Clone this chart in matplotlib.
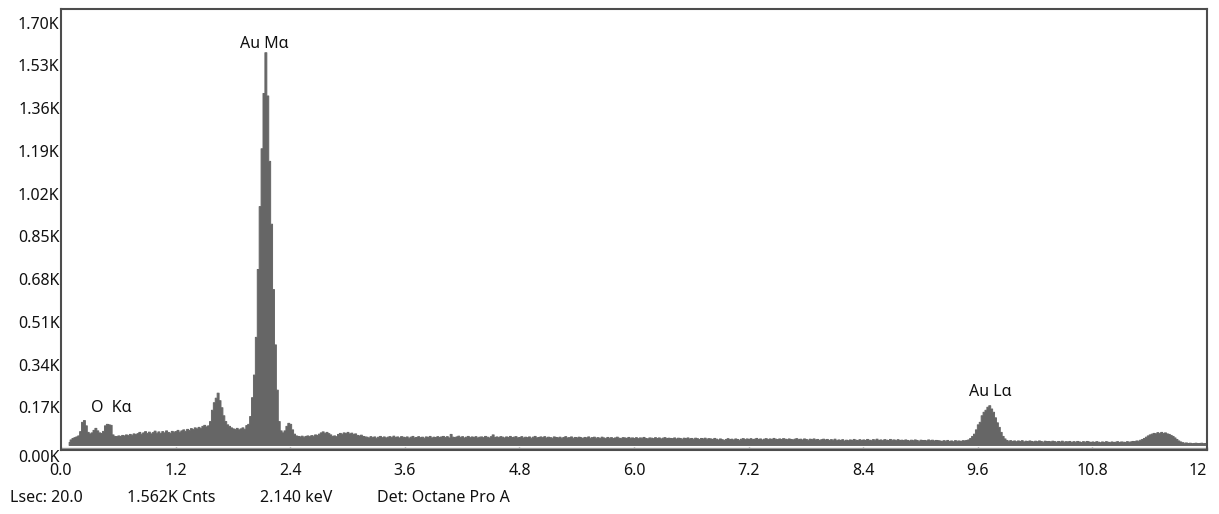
import numpy as np
import matplotlib
matplotlib.use("Agg")
import matplotlib.pyplot as plt

plt.rcParams['font.family'] = ['Noto Sans', 'DejaVu Sans']

# Energy grid: channel centres every 0.02 keV from 0.00 to 11.98 keV
CHANNEL_WIDTH = 0.02

# Counts per channel, grouped by energy band (20 channels = 0.4 keV per row)
counts_0_to_2 = [
    0, 0, 0, 0, 12, 22, 28, 31, 34, 38, 55, 92, 99, 78, 52, 46, 50, 60, 68, 58,
    50, 48, 56, 78, 84, 82, 80, 42, 36, 35, 38, 36, 40, 38, 42, 39, 44, 41, 46, 43,
    47, 52, 45, 50, 55, 48, 53, 46, 51, 57, 49, 54, 47, 55, 50, 58, 52, 49, 56, 53,
    55, 60, 53, 58, 62, 56, 64, 60, 67, 63, 70, 66, 72, 68, 76, 80, 74, 78, 95, 140,
    170, 188, 208, 178, 150, 118, 95, 82, 76, 70, 66, 63, 68, 62, 66, 70, 64, 79, 84, 115,
]
counts_2_to_4 = [
    190, 280, 430, 700, 950, 1180, 1400, 1562, 1390, 1130, 880, 620, 400, 220, 95, 58, 50, 58, 76, 88,
    84, 62, 45, 38, 36, 34, 37, 33, 36, 38, 35, 39, 37, 42, 40, 45, 50, 54, 48, 52,
    47, 42, 36, 38, 35, 44, 48, 45, 50, 47, 52, 46, 49, 44, 46, 40, 38, 41, 36, 34,
    33, 30, 35, 31, 34, 29, 33, 36, 31, 34, 30, 33, 35, 31, 37, 32, 34, 30, 35, 33,
    31, 34, 29, 33, 36, 30, 32, 35, 31, 33, 29, 34, 32, 36, 30, 33, 31, 35, 32, 34,
]
counts_4_to_6 = [
    36, 32, 35, 30, 44, 33, 31, 34, 37, 32, 35, 30, 33, 36, 31, 34, 32, 35, 30, 33,
    34, 31, 36, 33, 30, 35, 42, 32, 34, 31, 35, 33, 30, 34, 32, 36, 31, 33, 35, 30,
    32, 35, 30, 33, 31, 34, 29, 33, 36, 30, 32, 34, 31, 35, 30, 33, 31, 29, 34, 32,
    30, 33, 29, 32, 35, 30, 31, 34, 29, 32, 30, 33, 31, 28, 32, 30, 34, 29, 31, 33,
    29, 31, 28, 33, 30, 27, 32, 29, 31, 28, 30, 33, 29, 27, 31, 30, 28, 32, 29, 30,
]
counts_6_to_8 = [
    28, 31, 27, 30, 29, 32, 28, 26, 30, 29, 27, 31, 28, 30, 26, 29, 31, 27, 29, 28,
    27, 30, 26, 29, 28, 25, 29, 27, 30, 26, 28, 25, 29, 27, 24, 28, 26, 29, 25, 27,
    26, 24, 28, 25, 22, 26, 23, 20, 24, 27, 23, 25, 22, 26, 24, 21, 25, 27, 23, 26,
    24, 27, 23, 25, 28, 24, 26, 22, 25, 27, 23, 26, 24, 28, 25, 23, 26, 24, 27, 25,
    23, 26, 24, 22, 25, 27, 23, 25, 22, 26, 24, 21, 25, 23, 26, 22, 24, 20, 23, 25,
]
counts_8_to_10 = [
    22, 24, 20, 23, 21, 25, 19, 22, 20, 23, 18, 21, 19, 22, 20, 24, 21, 19, 23, 20,
    22, 20, 24, 21, 19, 23, 21, 25, 20, 22, 19, 23, 21, 20, 24, 21, 22, 19, 23, 20,
    21, 19, 22, 20, 18, 21, 19, 22, 20, 17, 21, 19, 20, 18, 22, 19, 21, 18, 20, 19,
    18, 16, 19, 17, 20, 16, 18, 15, 19, 17, 18, 16, 19, 18, 20, 22, 28, 36, 45, 62,
    82, 92, 118, 132, 140, 152, 158, 145, 132, 110, 90, 72, 52, 36, 26, 20, 17, 19, 16, 18,
]
counts_10_to_12 = [
    15, 18, 16, 19, 14, 17, 15, 18, 16, 14, 17, 15, 18, 16, 13, 17, 15, 16, 14, 17,
    15, 13, 16, 14, 17, 13, 15, 14, 16, 12, 15, 13, 16, 14, 12, 15, 13, 16, 14, 12,
    14, 12, 15, 13, 11, 14, 12, 15, 13, 11, 14, 12, 13, 15, 12, 14, 13, 12, 15, 13,
    14, 16, 15, 18, 17, 21, 24, 28, 33, 38, 42, 45, 48, 46, 51, 47, 52, 48, 50, 46,
    44, 40, 36, 30, 24, 18, 14, 11, 9, 10, 8, 9, 7, 8, 9, 7, 8, 9, 7, 8,
]

y_ticks = [0, 170, 340, 510, 680, 850, 1020, 1190, 1360, 1530, 1700]
y_tick_labels = ["0.00K", "0.17K", "0.34K", "0.51K", "0.68K", "0.85K",
                 "1.02K", "1.19K", "1.36K", "1.53K", "1.70K"]
x_ticks = [0.0, 1.2, 2.4, 3.6, 4.8, 6.0, 7.2, 8.4, 9.6, 10.8, 12.0]
x_tick_labels = ["0.0", "1.2", "2.4", "3.6", "4.8", "6.0", "7.2", "8.4", "9.6", "10.8", "12"]

peak_labels = ["Au M\u03b1", "O  K\u03b1", "Au L\u03b1"]
peak_label_pos = [(2.13, 1584), (0.315, 136), (9.73, 200)]
peak_label_ha = ["center", "left", "center"]

status_texts = ["Lsec: 20.0", "1.562K Cnts", "2.140 keV", "Det: Octane Pro A"]
status_x_px = [10, 127, 260, 377]

counts = np.array(counts_0_to_2 + counts_2_to_4 + counts_4_to_6
                  + counts_6_to_8 + counts_8_to_10 + counts_10_to_12, dtype=float)
energy = np.arange(len(counts)) * CHANNEL_WIDTH

# the trace begins at the first channel that recorded counts
first = int(np.argmax(counts > 0))
energy_shown = energy[first:]
counts_shown = counts[first:]

W, H = 1219, 514
fig = plt.figure(figsize=(W / 100, H / 100), dpi=100)
ax = fig.add_axes([61 / W, (H - 450) / H, (1207 - 61) / W, (450 - 9) / H])

FILL = "#666666"
EDGE = "#4d4d4d"
TEXT = "#111111"
baseline = 20  # spectrum trace sits a little above the axis line

ax.fill_between(energy_shown, baseline, baseline + counts_shown, step="mid",
                facecolor=FILL, edgecolor=FILL, linewidth=0.7)
ax.axhline(9, color="#9a9a9a", linewidth=1.0)

ax.set_xlim(0, 12)
ax.set_ylim(0, 1754)

ax.set_xticks(x_ticks)
ax.set_xticklabels(x_tick_labels)
ax.set_yticks(y_ticks)
ax.set_yticklabels(y_tick_labels)

ax.tick_params(axis="x", direction="in", length=2, width=1, color="#888888",
               labelsize=11.5, labelcolor=TEXT, pad=9.5)
ax.tick_params(axis="y", length=0, labelsize=11.5, labelcolor=TEXT, pad=1)

# bottom-most value label hangs just below the axis line
ax.get_yticklabels()[0].set_va("top")
ax.get_xticklabels()[-1].set_ha("right")

for side in ["left", "right", "top", "bottom"]:
    ax.spines[side].set_color(EDGE)
    ax.spines[side].set_linewidth(1.5)

for text, (xv, yv), ha in zip(peak_labels, peak_label_pos, peak_label_ha):
    ax.text(xv, yv, text, ha=ha, va="bottom", fontsize=11.5, color=TEXT)

for text, xp in zip(status_texts, status_x_px):
    fig.text(xp / W, (H - 498) / H, text, ha="left", va="center",
             fontsize=11.5, color=TEXT)

fig.savefig("out.png", dpi=100)
